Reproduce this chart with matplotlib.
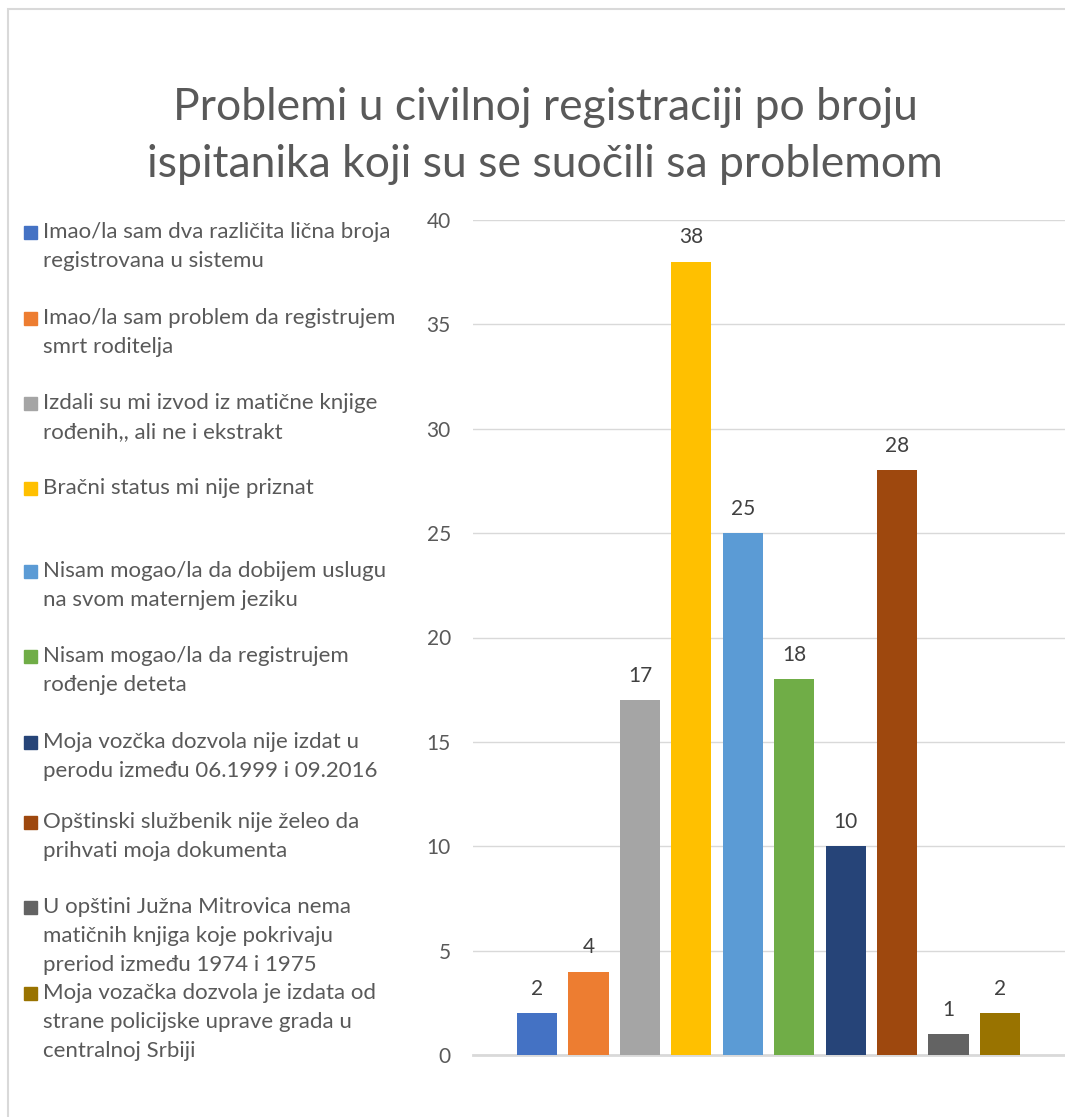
import matplotlib
matplotlib.use("Agg")
import matplotlib.pyplot as plt
from matplotlib.patches import Rectangle
import numpy as np

plt.rcParams["font.family"] = ["Lato", "DejaVu Sans"]

title = "Problemi u civilnoj registraciji po broju\nispitanika koji su se suočili sa problemom"
labels = [
    "Imao/la sam dva različita lična broja\nregistrovana u sistemu",
    "Imao/la sam problem da registrujem\nsmrt roditelja",
    "Izdali su mi izvod iz matične knjige\nrođenih,, ali ne i ekstrakt",
    "Bračni status mi nije priznat",
    "Nisam mogao/la da dobijem uslugu\nna svom maternjem jeziku",
    "Nisam mogao/la da registrujem\nrođenje deteta",
    "Moja vozčka dozvola nije izdat u\nperodu između 06.1999 i 09.2016",
    "Opštinski službenik nije želeo da\nprihvati moja dokumenta",
    "U opštini Južna Mitrovica nema\nmatičnih knjiga koje pokrivaju\npreriod između 1974 i 1975",
    "Moja vozačka dozvola je izdata od\nstrane policijske uprave grada u\ncentralnoj Srbiji",
]
values = [2, 4, 17, 38, 25, 18, 10, 28, 1, 2]
colors = ["#4472C4", "#ED7D31", "#A5A5A5", "#FFC000", "#5B9BD5",
          "#70AD47", "#264478", "#9E480E", "#636363", "#997300"]
yticks = [0, 5, 10, 15, 20, 25, 30, 35, 40]

W, H = 1065, 1117
fig = plt.figure(figsize=(W / 100, H / 100), dpi=100)

def fx(px):
    return px / W

def fy(py):
    return 1 - py / H

# outer chart frame (only top/left visible in the crop)
fig.add_artist(Rectangle((fx(8), fy(1200)), fx(1100), 1200 / H - 9 / H,
                         transform=fig.transFigure, fill=False,
                         edgecolor="#D9D9D9", linewidth=1.5))

ax = fig.add_axes([fx(473), fy(1055), fx(1065 - 473), (1055 - 220) / H])
x = np.arange(len(values))
ax.bar(x, values, width=0.78, color=colors, zorder=3)
for xi, v in zip(x, values):
    ax.annotate(str(v), (xi, v), xytext=(0, 17.5), textcoords="offset points",
                ha="center", va="center", fontsize=15, color="#404040")

ax.set_ylim(0, 40)
ax.set_xlim(-1.245, 9 + 1.265)
ax.set_yticks(yticks)
ax.set_xticks([])
ax.grid(axis="y", color="#D9D9D9", linewidth=1.0, zorder=0)
for s in ["top", "right", "left"]:
    ax.spines[s].set_visible(False)
ax.spines["bottom"].set_color("#D9D9D9")
ax.spines["bottom"].set_linewidth(2.0)
ax.tick_params(axis="y", length=0, pad=16, labelsize=15, labelcolor="#595959")

fig.text(fx(545), fy(136), title, ha="center", va="center", fontsize=32,
         color="#595959", linespacing=1.47)

# legend, drawn by hand (entries have uneven line counts)
first_line = [232, 318, 403, 488, 571, 656, 742, 822, 907, 993]
for lab, col, yy in zip(labels, colors, first_line):
    fig.add_artist(Rectangle((fx(24), fy(yy + 6.5)), fx(13), 13 / H,
                             transform=fig.transFigure, color=col))
    fig.text(fx(43), fy(yy - 10), lab, ha="left", va="top", fontsize=16,
             color="#595959", linespacing=1.55)

fig.savefig("out.png", dpi=100)
